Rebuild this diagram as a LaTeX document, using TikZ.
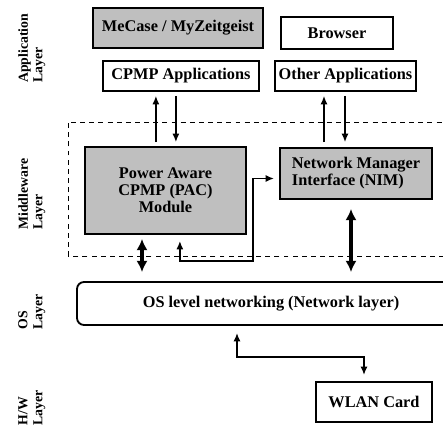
\documentclass[tikz,border=0pt]{standalone}
\usepackage{fontspec}
\usepackage{graphicx}
\setmainfont{Liberation Serif}
\usetikzlibrary{arrows.meta}

\begin{document}
\begin{tikzpicture}[
    font=\bfseries\fontsize{11.6}{12}\selectfont,
    box/.style={rectangle, draw, line width=1.3pt, inner sep=0pt, align=center},
    appbox/.style={box, fill=white},
    graybox/.style={box, fill=black!25},
    midbox/.style={draw, dashed, dash pattern=on 3.5pt off 3pt, line width=0.7pt},
    layerlabel/.style={anchor=south west, inner sep=0pt, font=\bfseries\fontsize{9.8}{10}\selectfont},
    arrow/.style={-{Latex[length=6pt,width=5pt]}, line width=1pt},
    twoway/.style={{Latex[length=6pt,width=5pt]}-{Latex[length=6pt,width=5pt]}, line width=1.2pt},
    bigarrow/.style={{Latex[length=8pt,width=8pt]}-{Latex[length=8pt,width=8pt]}, line width=2.8pt}
]
\useasboundingbox (0,0) rectangle (11.075,10.675);
\clip (0,0) rectangle (11.075,10.675);

% Layer labels
\node[layerlabel] (appname) at (0.45,8.6) {\rotatebox{90}{Application}};
\node[layerlabel] (applayer) at (0.825,8.6) {\rotatebox{90}{Layer}};
\node[layerlabel] (midname) at (0.45,4.925) {\rotatebox{90}{Middleware}};
\node[layerlabel] (midlayer) at (0.825,4.925) {\rotatebox{90}{Layer}};
\node[layerlabel] (osname) at (0.45,2.425) {\rotatebox{90}{OS}};
\node[layerlabel] (oslayer) at (0.825,2.425) {\rotatebox{90}{Layer}};
\node[layerlabel] (hwname) at (0.45,0.03) {\rotatebox{90}{H/W}};
\node[layerlabel] (hwlayer) at (0.825,0.03) {\rotatebox{90}{Layer}};

% Application layer
\node[graybox, minimum width=4.25cm, minimum height=1cm] (mecase) at (4.45,9.975) {MeCase / MyZeitgeist};
\node[appbox, minimum width=2.8cm, minimum height=0.8cm] (browser) at (8.425,9.85) {Browser};
\node[appbox, minimum width=3.9cm, minimum height=0.75cm] (capp) at (4.525,8.775) {CPMP Applications};
\node[appbox, minimum width=3.525cm, minimum height=0.75cm] (oapp) at (8.6375,8.775) {Other Applications};

% Middleware layer
\draw[midbox] (1.7,4.275) rectangle (11.5,7.625);
\node[graybox, minimum width=4.025cm, minimum height=2.175cm] (pac) at (4.1375,5.9125) {Power Aware\\CPMP (PAC)\\Module};
\node[graybox, minimum width=3.8cm, minimum height=1.275cm, align=left] (nim) at (8.9,6.3375) {Network Manager\\Interface (NIM)};

% OS layer
\node[box, rounded corners=5pt, minimum width=9.7cm, minimum height=1.075cm] (os) at (6.775,3.0875) {OS level networking (Network layer)};

% H/W layer
\node[appbox, minimum width=2.9cm, minimum height=1cm] (wlan) at (9.35,0.625) {WLAN Card};

% Connections
\draw[arrow, shorten <=0.1cm, shorten >=0.1cm] ([xshift=-0.24cm]pac.north) -- ([xshift=-0.24cm]pac.north |- capp.south);
\draw[arrow, shorten <=0.1cm, shorten >=0.1cm] ([xshift=0.26cm]pac.north |- capp.south) -- ([xshift=0.26cm]pac.north);
\draw[arrow, shorten <=0.125cm, shorten >=0.1cm] ([xshift=-0.8cm]nim.north) -- ([xshift=-0.8cm]nim.north |- oapp.south);
\draw[arrow, shorten <=0.1cm, shorten >=0.125cm] ([xshift=-0.275cm]nim.north |- oapp.south) -- ([xshift=-0.275cm]nim.north);

\draw[twoway, shorten <=0.15cm, shorten >=0.125cm] ([xshift=0.36cm]pac.south) -- ++(0,-0.65) -| ([xshift=-0.65cm, yshift=-0.125cm]nim.west) -- ([yshift=-0.125cm]nim.west);

\draw[bigarrow, shorten <=0.1cm, shorten >=0.225cm] ([xshift=-0.5875cm]pac.south) -- ([xshift=-0.5875cm]pac.south |- os.north);
\draw[bigarrow, shorten <=0.225cm, shorten >=0.225cm] ([xshift=-0.125cm]nim.south) -- ([xshift=-0.125cm]nim.south |- os.north);

\draw[twoway, shorten <=0.175cm, shorten >=0.15cm] ([xshift=-0.85cm]os.south) -- ++(0,-0.775) -| ([xshift=-0.25cm]wlan.north);

\end{tikzpicture}
\end{document}
